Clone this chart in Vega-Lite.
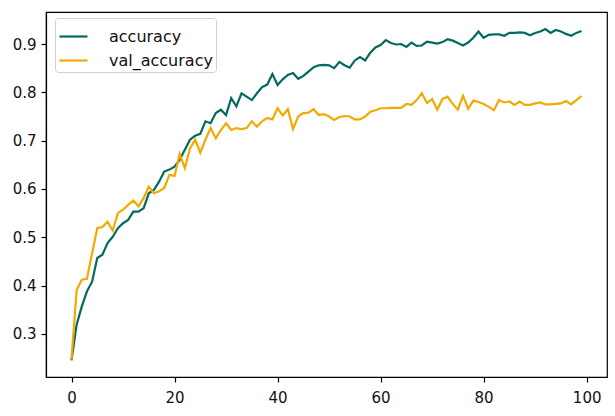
{
  "$schema": "https://vega.github.io/schema/vega-lite/v6.json",
  "width": 561,
  "height": 365,
  "autosize": "none",
  "padding": {"left": 46, "top": 12, "right": 8, "bottom": 39},
  "background": "white",
  "config": {
    "font": "DejaVu Sans",
    "view": {"stroke": "#000", "strokeWidth": 1.2},
    "axis": {
      "grid": false,
      "domainColor": "#000",
      "domainWidth": 1.2,
      "tickColor": "#000",
      "tickWidth": 1.2,
      "tickSize": 5,
      "labelFontSize": 15,
      "labelColor": "#111",
      "title": null
    },
    "axisX": {"labelPadding": 8},
    "axisY": {"labelPadding": 5}
  },
  "data": {
    "values": [
      {"epoch": 0, "accuracy": 0.245, "val_accuracy": 0.247},
      {"epoch": 1, "accuracy": 0.319, "val_accuracy": 0.391},
      {"epoch": 2, "accuracy": 0.357, "val_accuracy": 0.412},
      {"epoch": 3, "accuracy": 0.388, "val_accuracy": 0.414},
      {"epoch": 4, "accuracy": 0.408, "val_accuracy": 0.467},
      {"epoch": 5, "accuracy": 0.457, "val_accuracy": 0.519},
      {"epoch": 6, "accuracy": 0.464, "val_accuracy": 0.521},
      {"epoch": 7, "accuracy": 0.488, "val_accuracy": 0.532},
      {"epoch": 8, "accuracy": 0.501, "val_accuracy": 0.514},
      {"epoch": 9, "accuracy": 0.519, "val_accuracy": 0.550},
      {"epoch": 10, "accuracy": 0.529, "val_accuracy": 0.557},
      {"epoch": 11, "accuracy": 0.536, "val_accuracy": 0.567},
      {"epoch": 12, "accuracy": 0.553, "val_accuracy": 0.576},
      {"epoch": 13, "accuracy": 0.553, "val_accuracy": 0.564},
      {"epoch": 14, "accuracy": 0.560, "val_accuracy": 0.581},
      {"epoch": 15, "accuracy": 0.591, "val_accuracy": 0.605},
      {"epoch": 16, "accuracy": 0.598, "val_accuracy": 0.591},
      {"epoch": 17, "accuracy": 0.615, "val_accuracy": 0.595},
      {"epoch": 18, "accuracy": 0.636, "val_accuracy": 0.602},
      {"epoch": 19, "accuracy": 0.640, "val_accuracy": 0.629},
      {"epoch": 20, "accuracy": 0.646, "val_accuracy": 0.627},
      {"epoch": 21, "accuracy": 0.660, "val_accuracy": 0.672},
      {"epoch": 22, "accuracy": 0.681, "val_accuracy": 0.643},
      {"epoch": 23, "accuracy": 0.702, "val_accuracy": 0.684},
      {"epoch": 24, "accuracy": 0.710, "val_accuracy": 0.702},
      {"epoch": 25, "accuracy": 0.714, "val_accuracy": 0.675},
      {"epoch": 26, "accuracy": 0.740, "val_accuracy": 0.702},
      {"epoch": 27, "accuracy": 0.736, "val_accuracy": 0.726},
      {"epoch": 28, "accuracy": 0.757, "val_accuracy": 0.705},
      {"epoch": 29, "accuracy": 0.764, "val_accuracy": 0.722},
      {"epoch": 30, "accuracy": 0.753, "val_accuracy": 0.736},
      {"epoch": 31, "accuracy": 0.788, "val_accuracy": 0.722},
      {"epoch": 32, "accuracy": 0.771, "val_accuracy": 0.726},
      {"epoch": 33, "accuracy": 0.798, "val_accuracy": 0.724},
      {"epoch": 34, "accuracy": 0.791, "val_accuracy": 0.726},
      {"epoch": 35, "accuracy": 0.784, "val_accuracy": 0.740},
      {"epoch": 36, "accuracy": 0.798, "val_accuracy": 0.729},
      {"epoch": 37, "accuracy": 0.811, "val_accuracy": 0.740},
      {"epoch": 38, "accuracy": 0.816, "val_accuracy": 0.747},
      {"epoch": 39, "accuracy": 0.838, "val_accuracy": 0.744},
      {"epoch": 40, "accuracy": 0.815, "val_accuracy": 0.767},
      {"epoch": 41, "accuracy": 0.827, "val_accuracy": 0.752},
      {"epoch": 42, "accuracy": 0.836, "val_accuracy": 0.765},
      {"epoch": 43, "accuracy": 0.840, "val_accuracy": 0.724},
      {"epoch": 44, "accuracy": 0.828, "val_accuracy": 0.750},
      {"epoch": 45, "accuracy": 0.834, "val_accuracy": 0.757},
      {"epoch": 46, "accuracy": 0.843, "val_accuracy": 0.758},
      {"epoch": 47, "accuracy": 0.852, "val_accuracy": 0.765},
      {"epoch": 48, "accuracy": 0.856, "val_accuracy": 0.753},
      {"epoch": 49, "accuracy": 0.857, "val_accuracy": 0.755},
      {"epoch": 50, "accuracy": 0.856, "val_accuracy": 0.750},
      {"epoch": 51, "accuracy": 0.850, "val_accuracy": 0.743},
      {"epoch": 52, "accuracy": 0.863, "val_accuracy": 0.749},
      {"epoch": 53, "accuracy": 0.856, "val_accuracy": 0.751},
      {"epoch": 54, "accuracy": 0.851, "val_accuracy": 0.750},
      {"epoch": 55, "accuracy": 0.866, "val_accuracy": 0.744},
      {"epoch": 56, "accuracy": 0.873, "val_accuracy": 0.744},
      {"epoch": 57, "accuracy": 0.866, "val_accuracy": 0.750},
      {"epoch": 58, "accuracy": 0.882, "val_accuracy": 0.760},
      {"epoch": 59, "accuracy": 0.893, "val_accuracy": 0.763},
      {"epoch": 60, "accuracy": 0.898, "val_accuracy": 0.767},
      {"epoch": 61, "accuracy": 0.908, "val_accuracy": 0.767},
      {"epoch": 62, "accuracy": 0.902, "val_accuracy": 0.768},
      {"epoch": 63, "accuracy": 0.899, "val_accuracy": 0.768},
      {"epoch": 64, "accuracy": 0.900, "val_accuracy": 0.768},
      {"epoch": 65, "accuracy": 0.894, "val_accuracy": 0.776},
      {"epoch": 66, "accuracy": 0.903, "val_accuracy": 0.774},
      {"epoch": 67, "accuracy": 0.896, "val_accuracy": 0.784},
      {"epoch": 68, "accuracy": 0.897, "val_accuracy": 0.798},
      {"epoch": 69, "accuracy": 0.905, "val_accuracy": 0.778},
      {"epoch": 70, "accuracy": 0.903, "val_accuracy": 0.786},
      {"epoch": 71, "accuracy": 0.901, "val_accuracy": 0.764},
      {"epoch": 72, "accuracy": 0.904, "val_accuracy": 0.786},
      {"epoch": 73, "accuracy": 0.910, "val_accuracy": 0.791},
      {"epoch": 74, "accuracy": 0.907, "val_accuracy": 0.776},
      {"epoch": 75, "accuracy": 0.902, "val_accuracy": 0.764},
      {"epoch": 76, "accuracy": 0.897, "val_accuracy": 0.793},
      {"epoch": 77, "accuracy": 0.903, "val_accuracy": 0.766},
      {"epoch": 78, "accuracy": 0.913, "val_accuracy": 0.783},
      {"epoch": 79, "accuracy": 0.926, "val_accuracy": 0.780},
      {"epoch": 80, "accuracy": 0.913, "val_accuracy": 0.776},
      {"epoch": 81, "accuracy": 0.919, "val_accuracy": 0.770},
      {"epoch": 82, "accuracy": 0.920, "val_accuracy": 0.763},
      {"epoch": 83, "accuracy": 0.920, "val_accuracy": 0.784},
      {"epoch": 84, "accuracy": 0.917, "val_accuracy": 0.779},
      {"epoch": 85, "accuracy": 0.923, "val_accuracy": 0.781},
      {"epoch": 86, "accuracy": 0.923, "val_accuracy": 0.774},
      {"epoch": 87, "accuracy": 0.924, "val_accuracy": 0.781},
      {"epoch": 88, "accuracy": 0.923, "val_accuracy": 0.774},
      {"epoch": 89, "accuracy": 0.918, "val_accuracy": 0.774},
      {"epoch": 90, "accuracy": 0.923, "val_accuracy": 0.777},
      {"epoch": 91, "accuracy": 0.926, "val_accuracy": 0.779},
      {"epoch": 92, "accuracy": 0.931, "val_accuracy": 0.775},
      {"epoch": 93, "accuracy": 0.923, "val_accuracy": 0.775},
      {"epoch": 94, "accuracy": 0.929, "val_accuracy": 0.776},
      {"epoch": 95, "accuracy": 0.926, "val_accuracy": 0.777},
      {"epoch": 96, "accuracy": 0.921, "val_accuracy": 0.782},
      {"epoch": 97, "accuracy": 0.917, "val_accuracy": 0.775},
      {"epoch": 98, "accuracy": 0.923, "val_accuracy": 0.784},
      {"epoch": 99, "accuracy": 0.927, "val_accuracy": 0.792}
    ]
  },
  "transform": [{"fold": ["accuracy", "val_accuracy"], "as": ["series", "value"]}],
  "mark": {"type": "line", "strokeWidth": 2.2},
  "encoding": {
    "x": {
      "field": "epoch",
      "type": "quantitative",
      "scale": {"domain": [-4.95, 103.95], "nice": false, "zero": false},
      "axis": {"values": [0, 20, 40, 60, 80, 100], "format": "d"}
    },
    "y": {
      "field": "value",
      "type": "quantitative",
      "scale": {"domain": [0.2107, 0.9663], "nice": false, "zero": false},
      "axis": {"values": [0.3, 0.4, 0.5, 0.6, 0.7, 0.8, 0.9], "format": ".1f"}
    },
    "color": {
      "field": "series",
      "type": "nominal",
      "scale": {"domain": ["accuracy", "val_accuracy"], "range": ["#006b5e", "#f2a900"]},
      "legend": {
        "title": null,
        "orient": "none",
        "legendX": 9,
        "legendY": 6,
        "direction": "vertical",
        "symbolType": "stroke",
        "symbolSize": 784,
        "symbolStrokeWidth": 2.2,
        "labelFontSize": 16,
        "labelColor": "#111",
        "labelOffset": 20,
        "rowPadding": -4,
        "padding": 3,
        "fillColor": "white",
        "strokeColor": "#d0d0d0",
        "cornerRadius": 3
      }
    }
  }
}
